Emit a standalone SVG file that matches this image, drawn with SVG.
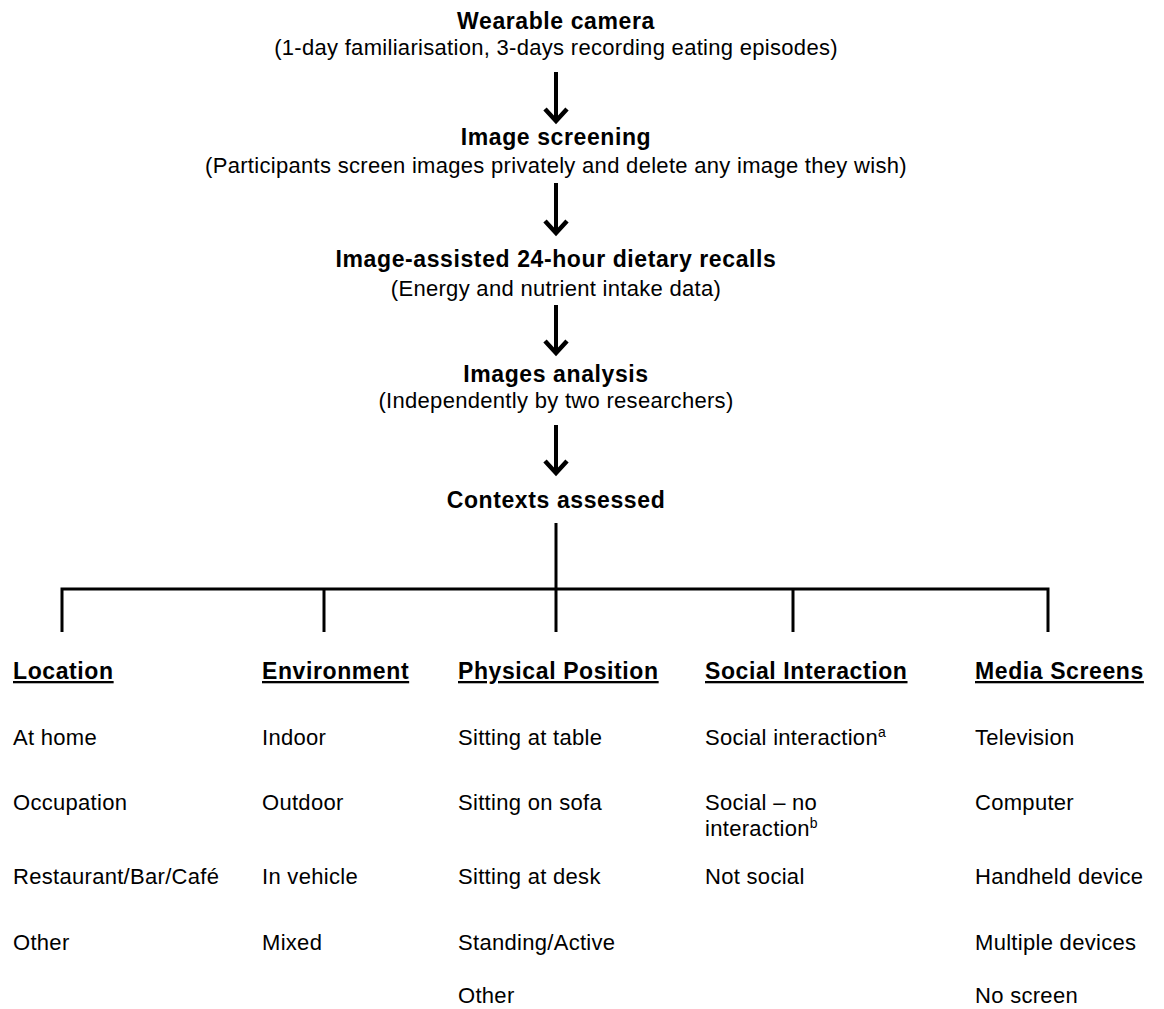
<svg xmlns="http://www.w3.org/2000/svg" width="1164" height="1009" viewBox="0 0 1164 1009">
  <style>
    text { font-family: "Liberation Sans", Arial, sans-serif; fill: #000; }
    .t { font-size: 23px; font-weight: bold; text-anchor: middle; letter-spacing: 0.6px; }
    .s { font-size: 22px; text-anchor: middle; letter-spacing: 0.3px; }
    .h { font-size: 23px; font-weight: bold; text-decoration: underline; letter-spacing: 0.6px; }
    .i { font-size: 22px; letter-spacing: 0.3px; }
    .sup { font-size: 14px; }
    .ln { stroke: #000; stroke-width: 3; fill: none; }
    .ar { stroke: #000; stroke-width: 4; fill: none; }
    .hd { stroke: #000; stroke-width: 4.5; fill: none; stroke-linejoin: miter; }
  </style>
  <rect width="1164" height="1009" fill="#fff"/>

  <g id="node-camera">
    <text class="t" x="556" y="29">Wearable camera</text>
    <text class="s" x="556" y="55">(1-day familiarisation, 3-days recording eating episodes)</text>
  </g>
  <g id="node-screening">
    <text class="t" x="556" y="145">Image screening</text>
    <text class="s" x="556" y="173">(Participants screen images privately and delete any image they wish)</text>
  </g>
  <g id="node-recalls">
    <text class="t" x="556" y="267">Image-assisted 24-hour dietary recalls</text>
    <text class="s" x="556" y="296">(Energy and nutrient intake data)</text>
  </g>
  <g id="node-analysis">
    <text class="t" x="556" y="382">Images analysis</text>
    <text class="s" x="556" y="408">(Independently by two researchers)</text>
  </g>
  <g id="node-contexts">
    <text class="t" x="556" y="508">Contexts assessed</text>
  </g>

  <g id="connectors">
    <line class="ar" x1="556" y1="72" x2="556" y2="120"/>
    <polyline class="hd" points="545,109 556,121 567,109"/>
    <line class="ar" x1="556" y1="183" x2="556" y2="232"/>
    <polyline class="hd" points="545,221 556,233 567,221"/>
    <line class="ar" x1="556" y1="305" x2="556" y2="352"/>
    <polyline class="hd" points="545,341 556,353 567,341"/>
    <line class="ar" x1="556" y1="425" x2="556" y2="472"/>
    <polyline class="hd" points="545,461 556,473 567,461"/>
    <line class="ln" x1="556" y1="523" x2="556" y2="632"/>
    <polyline class="ln" points="62,632 62,589 1048,589 1048,632"/>
    <line class="ln" x1="324" y1="589" x2="324" y2="632"/>
    <line class="ln" x1="793" y1="589" x2="793" y2="632"/>
  </g>

  <g id="col-location">
    <text class="h" x="13" y="679">Location</text>
    <text class="i" x="13" y="745">At home</text>
    <text class="i" x="13" y="810">Occupation</text>
    <text class="i" x="13" y="884">Restaurant/Bar/Café</text>
    <text class="i" x="13" y="950">Other</text>
  </g>
  <g id="col-environment">
    <text class="h" x="262" y="679">Environment</text>
    <text class="i" x="262" y="745">Indoor</text>
    <text class="i" x="262" y="810">Outdoor</text>
    <text class="i" x="262" y="884">In vehicle</text>
    <text class="i" x="262" y="950">Mixed</text>
  </g>
  <g id="col-position">
    <text class="h" x="458" y="679">Physical Position</text>
    <text class="i" x="458" y="745">Sitting at table</text>
    <text class="i" x="458" y="810">Sitting on sofa</text>
    <text class="i" x="458" y="884">Sitting at desk</text>
    <text class="i" x="458" y="950">Standing/Active</text>
    <text class="i" x="458" y="1003">Other</text>
  </g>
  <g id="col-social">
    <text class="h" x="705" y="679">Social Interaction</text>
    <text class="i" x="705" y="745">Social interaction<tspan class="sup" dy="-8">a</tspan></text>
    <text class="i" x="705" y="810">Social – no</text>
    <text class="i" x="705" y="836">interaction<tspan class="sup" dy="-8">b</tspan></text>
    <text class="i" x="705" y="884">Not social</text>
  </g>
  <g id="col-media">
    <text class="h" x="975" y="679">Media Screens</text>
    <text class="i" x="975" y="745">Television</text>
    <text class="i" x="975" y="810">Computer</text>
    <text class="i" x="975" y="884">Handheld device</text>
    <text class="i" x="975" y="950">Multiple devices</text>
    <text class="i" x="975" y="1003">No screen</text>
  </g>
</svg>
